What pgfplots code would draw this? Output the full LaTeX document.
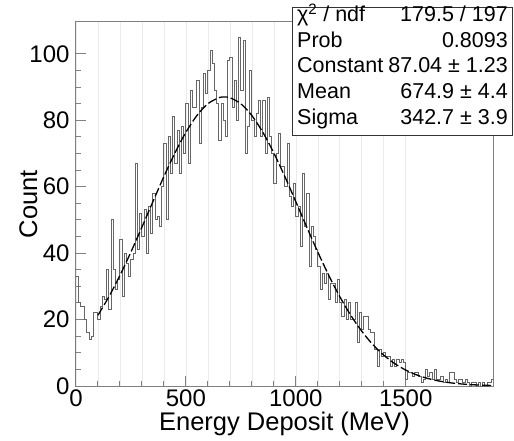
\documentclass[border=0pt]{standalone}
\usepackage{fontspec}
\setmainfont{Liberation Sans}
\usepackage{pgfplots}
\usepackage{pgfplotstable}
\pgfplotsset{compat=1.18}
\usetikzlibrary{calc}

\pgfplotstableread{
x y
0 0
0 33
10 25
20 24
30 24
40 20
50 16
60 14
70 15
80 22
90 22
100 20
110 24
120 27
130 26
140 35
150 23
160 50
170 35
180 29
190 32
200 44
210 27
220 40
230 37
240 33
250 38
260 40
270 67
280 41
290 52
300 45
310 53
320 40
330 54
340 46
350 58
360 50
370 51
380 48
390 60
400 73
410 50
420 75
430 64
440 81
450 67
460 77
470 64
480 78
490 70
500 85
510 67
520 89
530 84
540 84
550 92
560 73
570 84
580 94
590 88
600 95
610 101
620 97
630 89
640 85
650 74
660 85
670 80
680 75
690 98
700 99
710 84
720 92
730 80
740 105
750 89
760 104
770 70
780 78
790 95
800 80
810 75
820 82
830 86
840 75
850 86
860 70
870 87
880 75
890 70
900 61
910 70
920 76
930 66
940 66
950 60
960 73
970 57
980 54
990 61
1000 51
1010 54
1020 42
1030 64
1040 48
1050 58
1060 36
1070 48
1080 45
1090 41
1100 36
1110 29
1120 34
1130 31
1140 34
1150 26
1160 31
1170 31
1180 25
1190 32
1200 25
1210 21
1220 26
1230 20
1240 25
1250 20
1260 20
1270 25
1280 13
1290 22
1300 17
1310 21
1320 21
1330 17
1340 16
1350 16
1360 11
1370 6
1380 11
1390 9
1400 10
1410 9
1420 9
1430 6
1440 8
1450 6
1460 8
1470 7
1480 8
1490 7
1500 2
1510 4
1520 4
1530 3
1540 4
1550 4
1560 3
1570 1
1580 2
1590 5
1600 3
1610 4
1620 2
1630 5
1640 2
1650 2
1660 3
1670 1
1680 2
1690 1
1700 4
1710 4
1720 2
1730 1
1740 2
1750 2
1760 1
1770 2
1780 1
1790 0
1800 1
1810 1
1820 0
1830 1
1840 0
1850 1
1860 0
1870 1
1880 1
1890 2
1900 2
}\histdata

\pgfplotstableread{
x y
100 21.31
150 26.93
200 33.32
250 40.35
300 47.85
350 55.53
400 63.10
450 70.17
500 76.41
550 81.44
600 84.99
650 86.81
674.9 87.04
700 86.81
750 84.98
800 81.43
850 76.39
900 70.15
950 63.07
1000 55.50
1050 47.82
1100 40.33
1150 33.29
1200 26.91
1250 21.29
1300 16.50
1350 12.50
1400 9.28
1450 6.74
1500 4.80
1550 3.34
1600 2.28
1650 1.52
1700 0.99
1750 0.64
1800 0.40
1850 0.24
1900 0.15
}\fitdata

\newcommand\sfont{\fontsize{21.5}{21.5}\selectfont}

\begin{document}
\begin{tikzpicture}
\begin{axis}[name=ax, scale only axis, width=417pt, height=364pt,
  xmin=0, xmax=1897, ymin=0, ymax=109.6,
  xtick={0,500,1000,1500}, minor x tick num=4,
  ytick={0,20,40,60,80,100}, minor y tick num=3,
  tick align=inside, xtick pos=bottom, ytick pos=left,
  major tick length=10pt, minor tick length=5pt,
  axis line style={black!50, line width=1pt},
  every tick/.style={black!50, line width=1pt},
  xmajorgrids, xminorgrids,
  grid style={black!8, line width=0.6pt},
  /pgf/number format/assume math mode=true,
  /pgf/number format/set thousands separator={},
  ticklabel style={font=\fontsize{24}{24}\selectfont},
  yticklabel style={xshift=-3pt},
  xlabel={Energy Deposit (MeV)}, ylabel={Count},
  label style={font=\fontsize{25.5}{25.5}\selectfont},
  xlabel style={at={(axis description cs:0.5,-0.1236)}, anchor=base},
  ylabel style={at={(axis description cs:-0.0935,0.5)}, anchor=base},
]
\addplot[const plot mark left, black!60, line width=1pt] table[x=x,y=y] {\histdata};
\addplot[smooth, black, line width=1.3pt, dash pattern=on 9pt off 3pt] table[x=x,y=y] {\fitdata};
\end{axis}
\draw[black!80, line width=0.8pt, fill=white] ($(ax.north east)+(-201pt,15pt)$) rectangle ($(ax.north east)+(19pt,-113pt)$);
\foreach \l/\r [count=\i from 0] in {{χ\textsuperscript{2} / ndf}/{179.5 / 197}, {Prob}/{0.8093}, {Constant}/{87.04 ± 1.23}, {Mean}/{674.9 ± 4.4}, {Sigma}/{342.7 ± 3.9}} {
  \node[anchor=base west, inner sep=0pt, font=\sfont] at ($(ax.north east)+(-196pt,{0pt-25.5pt*\i})$) {\l};
  \node[anchor=base east, inner sep=0pt, font=\sfont] at ($(ax.north east)+(15pt,{0pt-25.5pt*\i})$) {\r};
}
\pgfresetboundingbox
\path[use as bounding box] ($(ax.south west)+(-76pt,-54pt)$) rectangle ($(ax.north east)+(21pt,22pt)$);
\end{tikzpicture}
\end{document}
